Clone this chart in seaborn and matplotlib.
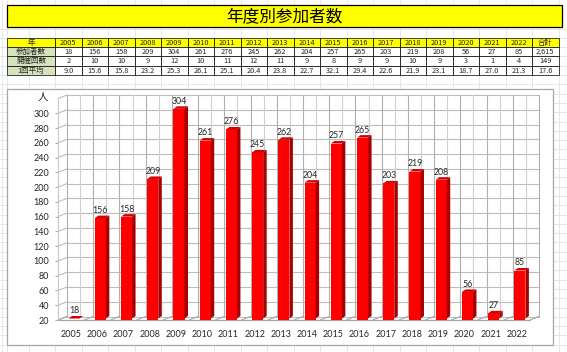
import numpy as np
import pandas as pd
import matplotlib
matplotlib.use("Agg")
import matplotlib.pyplot as plt
from matplotlib.patches import Rectangle, Polygon
from matplotlib.lines import Line2D
from matplotlib.transforms import ScaledTranslation, IdentityTransform
import seaborn as sns

# data
years = [2005, 2006, 2007, 2008, 2009, 2010, 2011, 2012, 2013,
         2014, 2015, 2016, 2017, 2018, 2019, 2020, 2021, 2022]
participants = [18, 156, 158, 209, 304, 261, 276, 245, 262,
                204, 257, 265, 203, 219, 208, 56, 27, 85]
sessions = [2, 10, 10, 9, 12, 10, 11, 12, 11, 9, 8, 9, 9, 10, 9, 3, 1, 4]
averages = ["9.0", "15.6", "15.8", "23.2", "25.3", "26.1", "25.1", "20.4", "23.8",
            "22.7", "32.1", "29.4", "22.6", "21.9", "23.1", "18.7", "27.0", "21.3"]
total_head = "合計"
totals = ["2,615", "149", "17.6"]
row_labels = ["年", "参加者数", "開催回数", "1回平均"]
title = "年度別参加者数"
unit = "人"
y_ticks = list(range(20, 301, 20))

W, H, DPI = 567, 352, 100
CJK = ["Noto Sans CJK JP", "DejaVu Sans"]
NUM = ["Lato", "DejaVu Sans"]

sns.set_theme(style="white")
plt.rcParams["font.family"] = CJK

fig = plt.figure(figsize=(W / DPI, H / DPI), dpi=DPI)
fig.patch.set_facecolor("white")

# --- sheet background, title and table (pixel coords) ---
bg = fig.add_axes([0, 0, 1, 1])
bg.set_xlim(0, W)
bg.set_ylim(H, 0)
bg.axis("off")

col_w = 26.5
x_lab0, x_lab1 = 7, 55
row_tops = [38, 46.5, 56, 65.5]
row_hs = [8.5, 9.5, 9.5, 9.5]

grid_c = "#E3E3E3"
for k in range(-2, 21):
    x = x_lab1 + col_w * k
    bg.plot([x, x], [0, H], color=grid_c, lw=0.6, zorder=0)
bg.plot([x_lab0, x_lab0], [0, H], color=grid_c, lw=0.6, zorder=0)
for k in range(-5, 32):
    y = 75 + 9.3 * k
    bg.plot([0, W], [y, y], color=grid_c, lw=0.6, zorder=0)

# title box
bg.add_patch(Rectangle((7, 5), 555, 22, fc="#FFFF00", ec="black", lw=0.9, zorder=2))
bg.text(284.5, 16.5, title, ha="center", va="center", fontsize=12, color="black", zorder=3)

# table
header = [str(y) for y in years] + [total_head]
body = [
    [str(v) for v in participants] + [totals[0]],
    [str(v) for v in sessions] + [totals[1]],
    averages + [totals[2]],
]
rows = [header] + body
for r, (lab, vals) in enumerate(zip(row_labels, rows)):
    y, rh = row_tops[r], row_hs[r]
    lab_fc = "#FFFF00" if r == 0 else "#D7E3BC"
    bg.add_patch(Rectangle((x_lab0, y), x_lab1 - x_lab0, rh, fc=lab_fc,
                           ec="black", lw=0.5, zorder=2))
    bg.text((x_lab0 + x_lab1) / 2, y + rh / 2 + 0.3, lab, ha="center", va="center",
            fontsize=5.4, zorder=3)
    for c, v in enumerate(vals):
        x = x_lab1 + c * col_w
        fc = "#FFFF00" if r == 0 else "white"
        bg.add_patch(Rectangle((x, y), col_w, rh, fc=fc, ec="black", lw=0.5, zorder=2))
        bg.text(x + col_w / 2, y + rh / 2 + 0.3, v, ha="center", va="center",
                fontsize=5.3, zorder=3)

# chart frame
bg.add_patch(Rectangle((7, 89), 546, 256, fc="white", ec="#A6A6A6", lw=0.9, zorder=2))

# --- chart ---
front_l, front_r, front_b, front_t = 58, 530, 320, 98.5
ax = fig.add_axes([front_l / W, (H - front_b) / H,
                   (front_r - front_l) / W, (front_b - front_t) / H])
ax.set_facecolor("none")

df = pd.DataFrame({"year": years, "count": participants})
sns.barplot(data=df, x="year", y="count", color="#FF0000", saturation=1,
            width=0.42, ax=ax, zorder=5)
ax.set_xlim(-0.5, len(years) - 0.5)
ax.set_ylim(20, 320)

DX_WALL, DY_WALL = 9, 3.5   # depth of the 3d box, px
DX_BAR, DY_BAR = 3.5, 2.5   # depth of each bar, px
SX, SY = 3, 1.5             # bars sit mid-depth

shift = ScaledTranslation(SX / DPI, SY / DPI, fig.dpi_scale_trans)
for p in ax.patches:
    p.set_transform(ax.transData + shift)
    p.set_edgecolor("none")


def disp(x, y, dx=0.0, dy=0.0):
    px, py = ax.transData.transform((x, y))
    return px + dx, py + dy


def seg(p0, p1, color, lw, z=1):
    ax.add_line(Line2D([p0[0], p1[0]], [p0[1], p1[1]], transform=IdentityTransform(),
                       color=color, lw=lw, zorder=z, clip_on=False))


x_lo, x_hi = -0.5, len(years) - 0.5
wall_c = "#BDBDBD"
# back wall grid
for yv in range(20, 321, 20):
    seg(disp(x_lo, yv, DX_WALL, DY_WALL), disp(x_hi, yv, DX_WALL, DY_WALL), wall_c, 0.8)
    # side wall
    seg(disp(x_lo, yv), disp(x_lo, yv, DX_WALL, DY_WALL), wall_c, 0.8)
for i, xv in enumerate(np.arange(x_lo, x_hi + 0.01, 0.5)):
    c = "#AFAFAF" if i % 2 == 0 else "#CFCFCF"
    seg(disp(xv, 20, DX_WALL, DY_WALL), disp(xv, 320, DX_WALL, DY_WALL), c, 0.8)
# floor
floor_c = "#A6A6A6"
for xv in np.arange(x_lo, x_hi + 0.01, 1.0):
    seg(disp(xv, 20), disp(xv, 20, DX_WALL, DY_WALL), floor_c, 0.8, z=2)
seg(disp(x_lo, 20), disp(x_hi, 20), floor_c, 0.9, z=2)
seg(disp(x_lo, 20), disp(x_lo, 320), "#C8C8C8", 0.8, z=2)

# 3d faces of the bars
for p in ax.patches:
    x0, w, h = p.get_x(), p.get_width(), max(p.get_height(), 20)
    bl = disp(x0, 20, SX, SY)
    br = disp(x0 + w, 20, SX, SY)
    tl = disp(x0, h, SX, SY)
    tr = disp(x0 + w, h, SX, SY)
    side = [br, (br[0] + DX_BAR, br[1] + DY_BAR), (tr[0] + DX_BAR, tr[1] + DY_BAR), tr]
    top = [tl, tr, (tr[0] + DX_BAR, tr[1] + DY_BAR), (tl[0] + DX_BAR, tl[1] + DY_BAR)]
    ax.add_patch(Polygon(side, closed=True, transform=IdentityTransform(),
                         fc="#A80000", ec="none", zorder=6, clip_on=False))
    ax.add_patch(Polygon(top, closed=True, transform=IdentityTransform(),
                         fc="#D40000", ec="none", zorder=6, clip_on=False))

# value labels
for i, v in enumerate(participants):
    ax.annotate(str(v), xy=(i, max(v, 20)), xytext=(SX * 0.72, 4.6 * 0.72),
                textcoords="offset points", ha="center", va="bottom",
                fontsize=6.3, family=NUM, color="#262626", zorder=8)

# axes styling
sns.despine(ax=ax, left=True, bottom=True, top=True, right=True)
ax.set_xlabel("")
ax.set_ylabel("")
ax.set_yticks(y_ticks)
ax.set_yticklabels([str(t) for t in y_ticks], family=NUM, fontsize=6.5, color="#262626")
ax.set_xticks(range(len(years)))
ax.set_xticklabels([str(y) for y in years], family=NUM, fontsize=6.5, color="#262626")
ax.set_xticks(np.arange(x_lo, x_hi + 0.01, 1.0), minor=True)
ax.tick_params(axis="x", which="major", length=0, pad=7)
ax.tick_params(axis="x", which="minor", length=2.9, width=0.7, color=floor_c, direction="out")
ax.tick_params(axis="y", which="major", length=2.2, width=0.7, color=floor_c, pad=4.3, left=True)
ax.grid(False)
ax.annotate(unit, xy=(0, 1), xycoords="axes fraction", xytext=(-15.3 * 0.72, 1.5 * 0.72),
            textcoords="offset points", ha="center", va="center", fontsize=7.5,
            family=CJK)

fig.savefig("out.png", dpi=DPI)
